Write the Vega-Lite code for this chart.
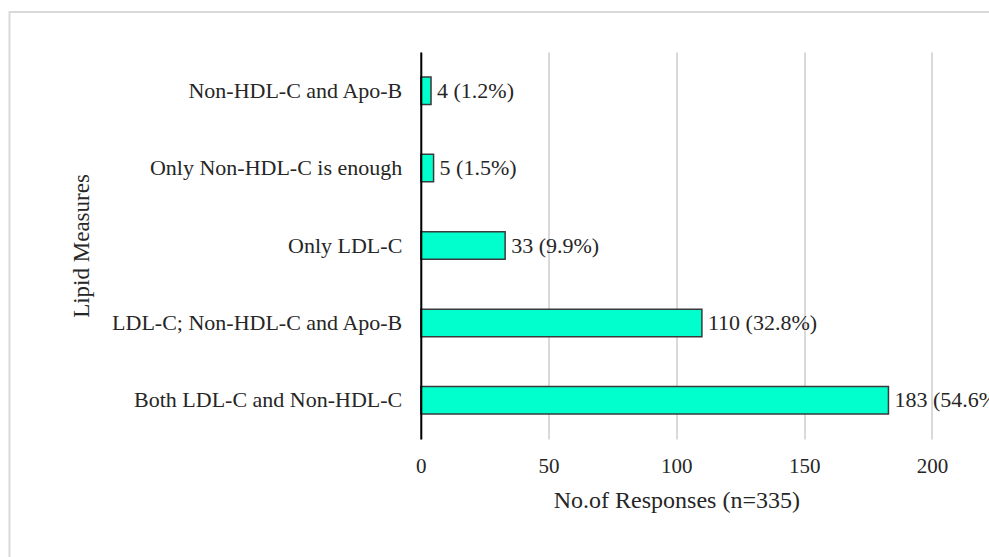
{
  "$schema": "https://vega.github.io/schema/vega-lite/v6.json",
  "width": 982.5,
  "height": 548,
  "autosize": {"type": "none"},
  "padding": {"left": 9.5, "top": 12, "right": -3, "bottom": -3},
  "background": "white",
  "config": {
    "font": "Liberation Serif",
    "view": {"stroke": "#d9d9d9", "strokeWidth": 2}
  },
  "data": {
    "values": [
      {"measure": "Non-HDL-C and Apo-B", "responses": 4, "label": "4 (1.2%)"},
      {"measure": "Only Non-HDL-C is enough", "responses": 5, "label": "5 (1.5%)"},
      {"measure": "Only LDL-C", "responses": 33, "label": "33 (9.9%)"},
      {"measure": "LDL-C; Non-HDL-C and Apo-B", "responses": 110, "label": "110 (32.8%)"},
      {"measure": "Both LDL-C and Non-HDL-C", "responses": 183, "label": "183 (54.6%)"}
    ]
  },
  "encoding": {
    "y": {
      "field": "measure",
      "type": "nominal",
      "sort": {"field": "responses", "order": "ascending"},
      "scale": {"range": [40, 427], "paddingInner": 0.645, "paddingOuter": 0.3225},
      "axis": {
        "title": "Lipid Measures",
        "titleFontSize": 23,
        "titleFontWeight": "normal",
        "titleColor": "#262626",
        "titleX": -339,
        "titleY": 233.5,
        "titleBaseline": "middle",
        "labelFontSize": 22,
        "labelColor": "#262626",
        "labelPadding": 19,
        "labelLimit": 0,
        "ticks": false,
        "tickSize": 0,
        "grid": false,
        "domainColor": "#000000",
        "domainWidth": 2,
        "offset": -411.3,
        "zindex": 1
      }
    },
    "x": {
      "field": "responses",
      "type": "quantitative",
      "scale": {"domain": [0, 200], "range": [411.3, 922.4], "nice": false, "zero": true},
      "axis": {
        "orient": "top",
        "offset": -427,
        "title": "No.of Responses (n=335)",
        "values": [0, 50, 100, 150, 200],
        "titleFontSize": 24,
        "titleFontWeight": "normal",
        "titleColor": "#262626",
        "titleY": 61,
        "titleBaseline": "middle",
        "labelFontSize": 21,
        "labelColor": "#262626",
        "labelBaseline": "middle",
        "labelPadding": -27,
        "labelFlush": false,
        "labelOverlap": false,
        "ticks": false,
        "tickSize": 0,
        "domain": false,
        "grid": true,
        "gridColor": "#d9d9d9",
        "gridWidth": 2
      }
    }
  },
  "layer": [
    {
      "mark": {"type": "bar", "fill": "#00FFCC", "stroke": "#3a3a3a", "strokeWidth": 1.5}
    },
    {
      "mark": {"type": "text", "align": "left", "baseline": "middle", "dx": 6, "fontSize": 22, "color": "#262626"},
      "encoding": {"text": {"field": "label"}}
    }
  ]
}
